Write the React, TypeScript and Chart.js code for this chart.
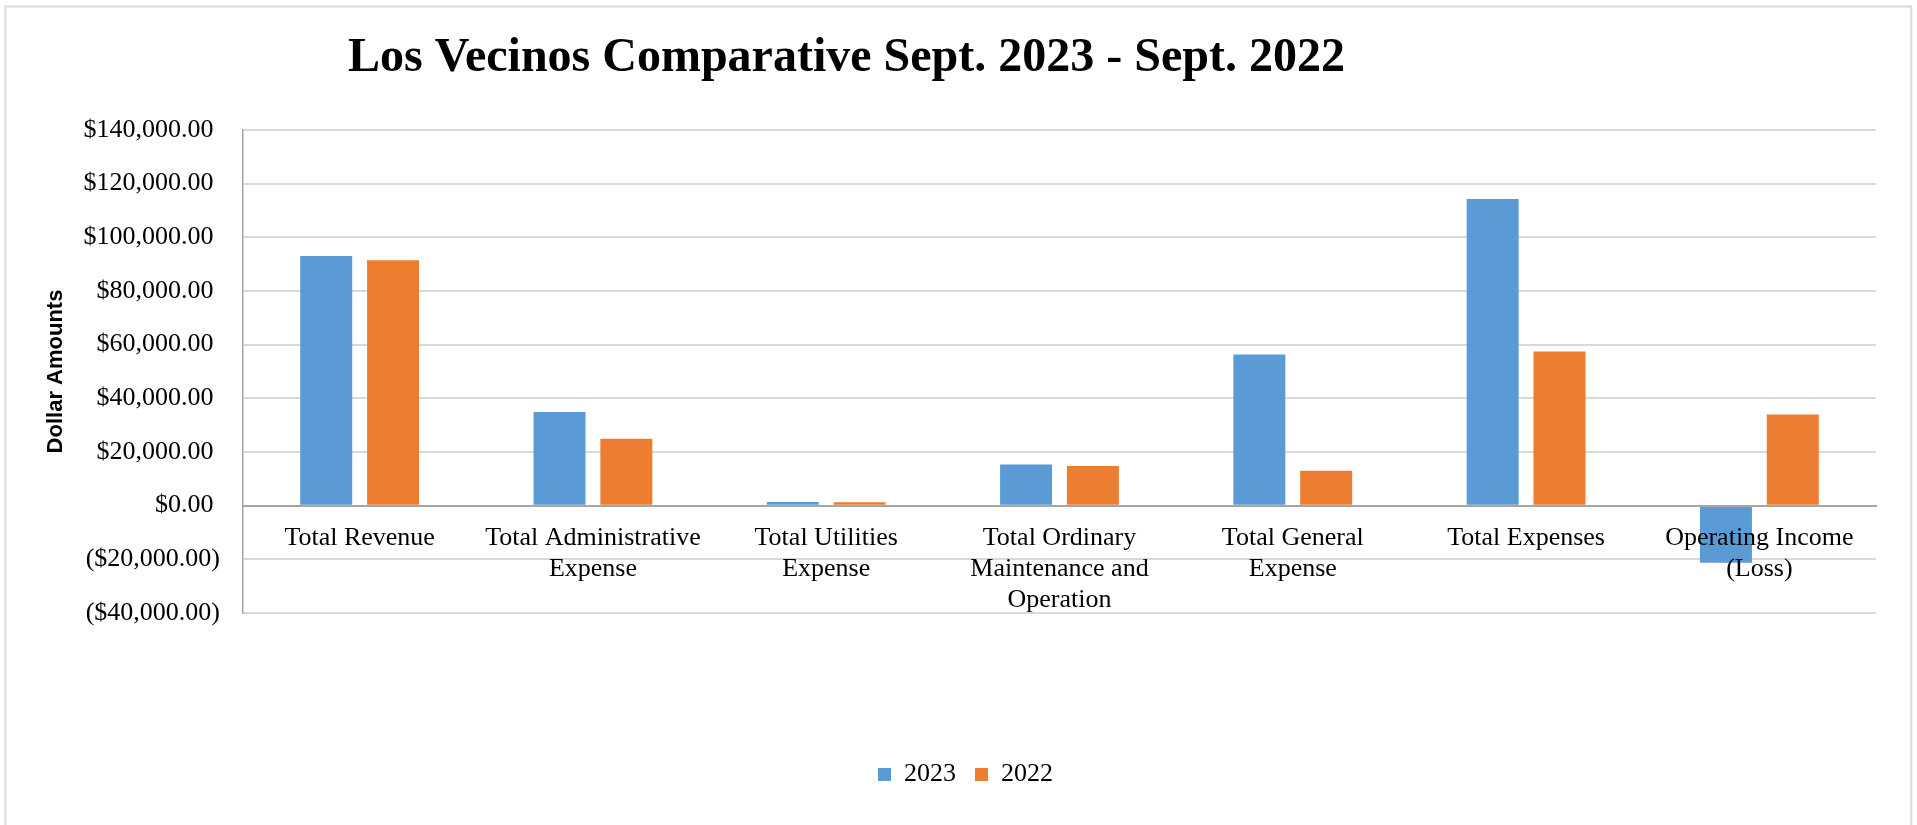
import React, { useEffect, useRef } from "react";
import { Chart, registerables } from "chart.js";

Chart.register(...registerables);

const CATEGORIES: (string | string[])[] = [
  "Total Revenue",
  ["Total Administrative", "Expense"],
  ["Total Utilities", "Expense"],
  ["Total Ordinary", "Maintenance and", "Operation"],
  ["Total General", "Expense"],
  "Total Expenses",
  ["Operating Income", "(Loss)"],
];
const SERIES_2023 = [93060, 34940, 1370, 15300, 56300, 114300, -21240];
const SERIES_2022 = [91450, 24900, 1240, 14800, 13000, 57500, 33950];
const SERIES_NAMES = ["2023", "2022"];
const SERIES_COLORS = ["#5B9BD5", "#ED7D31"];
const Y_MIN = -40000;
const Y_MAX = 140000;
const Y_STEP = 20000;
const TITLE = "Los Vecinos Comparative Sept. 2023 - Sept. 2022";
const Y_TITLE = "Dollar Amounts";

const W = 1917;
const H = 825;

function fmtMoney(v: number): string {
  const s = Math.abs(v).toLocaleString("en-US", {
    minimumFractionDigits: 2,
    maximumFractionDigits: 2,
  });
  return v < 0 ? `($${s})` : `$${s} `;
}

const framePlugin = {
  id: "frameAndTitle",
  beforeDraw(chart: any) {
    const ctx = chart.ctx;
    ctx.save();
    ctx.fillStyle = "#ffffff";
    ctx.fillRect(0, 0, chart.width, chart.height);
    ctx.strokeStyle = "#d9d9d9";
    ctx.lineWidth = 2;
    ctx.strokeRect(5.5, 6.5, 1905.8, 900);
    ctx.restore();
  },
  afterDraw(chart: any) {
    const ctx = chart.ctx;
    ctx.save();
    ctx.font = 'bold 48px "Liberation Serif"';
    ctx.fillStyle = "#000000";
    ctx.textAlign = "left";
    ctx.textBaseline = "alphabetic";
    ctx.fillText(TITLE, 348, 71);
    ctx.restore();
  },
};

export default function App() {
  const ref = useRef<HTMLCanvasElement | null>(null);

  useEffect(() => {
    if (!ref.current) return;
    const chart = new Chart(ref.current, {
      type: "bar",
      data: {
        labels: CATEGORIES as any,
        datasets: [
          {
            label: SERIES_NAMES[0],
            data: SERIES_2023,
            backgroundColor: SERIES_COLORS[0],
            categoryPercentage: 0.573,
            barPercentage: 0.778,
          },
          {
            label: SERIES_NAMES[1],
            data: SERIES_2022,
            backgroundColor: SERIES_COLORS[1],
            categoryPercentage: 0.573,
            barPercentage: 0.778,
          },
        ],
      },
      options: {
        responsive: false,
        animation: false,
        layout: { padding: { left: 55, right: 41, top: 130, bottom: 27.5 } },
        plugins: {
          title: { display: false },
          tooltip: { enabled: false },
          legend: {
            position: "bottom",
            labels: {
              boxWidth: 13,
              boxHeight: 13,
              padding: 19,
              color: "#000000",
              font: { family: "Liberation Serif", size: 26 },
            },
            title: {
              display: true,
              text: " ",
              padding: { top: 128.3, bottom: 0 },
              font: { size: 1 },
            },
          },
        },
        scales: {
          x: {
            position: { y: 0 } as any,
            grid: { display: false, drawTicks: false },
            border: { display: true, color: "#a6a6a6", width: 2, z: 1 } as any,
            ticks: {
              z: 1,
              color: "#000000",
              font: { family: "Liberation Serif", size: 26, lineHeight: 1.19 },
              padding: 17,
              maxRotation: 0,
              minRotation: 0,
              autoSkip: false,
            },
          },
          y: {
            min: Y_MIN,
            max: Y_MAX,
            afterFit: (scale: any) => {
              scale.width = 188;
            },
            grid: {
              drawTicks: false,
              lineWidth: 2,
              color: (c: any) => (c.tick && c.tick.value === 0 ? "#a6a6a6" : "#d9d9d9"),
            },
            border: { display: true, color: "#a6a6a6", width: 1.5 },
            title: {
              display: true,
              text: Y_TITLE,
              color: "#000000",
              font: { family: "Liberation Sans", weight: "bold", size: 22 },
              padding: { top: -12, bottom: 0 },
            },
            ticks: {
              stepSize: Y_STEP,
              color: "#000000",
              padding: 23,
              font: { family: "Liberation Serif", size: 26 },
              callback: (v: any) => fmtMoney(Number(v)),
            },
          },
        },
      },
      plugins: [framePlugin],
    });
    return () => chart.destroy();
  }, []);

  return (
    <div style={{ position: "absolute", left: 0, top: 0, width: W, height: H }}>
      <canvas ref={ref} width={W} height={H} style={{ display: "block" }} />
    </div>
  );
}
